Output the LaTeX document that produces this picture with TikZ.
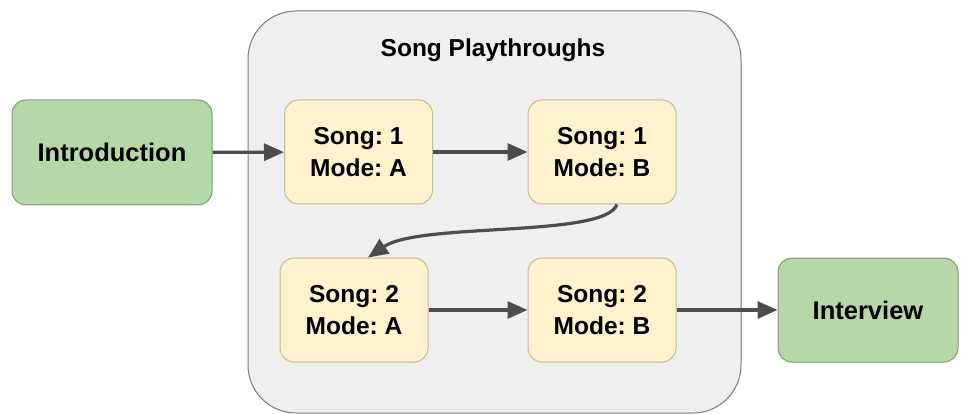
\documentclass[tikz,border=0pt]{standalone}
\usepackage{fontspec}
\setmainfont{Liberation Sans}
\usetikzlibrary{arrows.meta,calc}
\frenchspacing
\definecolor{grnfill}{HTML}{B6D7A8}
\definecolor{grnline}{HTML}{7F9B74}
\definecolor{ylwfill}{HTML}{FFF2CC}
\definecolor{ylwline}{HTML}{C9B98E}
\definecolor{boxfill}{HTML}{EFEFEF}
\definecolor{boxline}{HTML}{7A7A7A}
\definecolor{arrowc}{HTML}{4D4D4D}
\begin{document}
\begin{tikzpicture}[x=1pt,y=-1pt,
  greenbox/.style={draw=grnline,fill=grnfill,line width=1pt,rounded corners=14pt,font=\bfseries\fontsize{25.5}{30}\selectfont,align=center,inner sep=0pt},
  songbox/.style={draw=ylwline,fill=ylwfill,line width=1pt,rounded corners=14pt,minimum width=148pt,minimum height=104pt,font=\bfseries\fontsize{24.5}{32}\selectfont\frenchspacing,align=center,inner sep=0pt},
  conn/.style={draw=arrowc,line width=3.2pt,-{Triangle[length=20pt,width=17pt]}}]
\useasboundingbox (0,0) rectangle (966,414);
\node[draw=boxline,fill=boxfill,line width=1pt,rounded corners=48pt,minimum width=493pt,minimum height=402pt,inner sep=0pt] (cont) at (494.5,212) {};
\node[font=\bfseries\fontsize{24.5}{28}\selectfont] (title) at (493,50) {Song Playthroughs};
\node[greenbox,minimum width=200pt,minimum height=105pt] (intro) at (112,152.5) {Introduction};
\node[greenbox,minimum width=180pt,minimum height=104pt] (interview) at (868,310) {Interview};
\node[songbox] (a1) at (358.5,152) {Song: 1\\Mode: A};
\node[songbox] (b1) at (602,152) {Song: 1\\Mode: B};
\node[songbox] (a2) at (354,310) {Song: 2\\Mode: A};
\node[songbox] (b2) at (602,310) {Song: 2\\Mode: B};
\draw[conn] (intro) -- (a1);
\draw[conn] (a1) -- (b1);
\draw[conn] (a2) -- (b2);
\draw[conn] (b2) -- (interview);
\coordinate (cs) at ($(b1.south)+(15,0)$);
\coordinate (ce) at ($(a2.north)+(14,0)$);
\draw[conn] (cs) .. controls (605,238) and (420,222) .. (ce);
\end{tikzpicture}
\end{document}
